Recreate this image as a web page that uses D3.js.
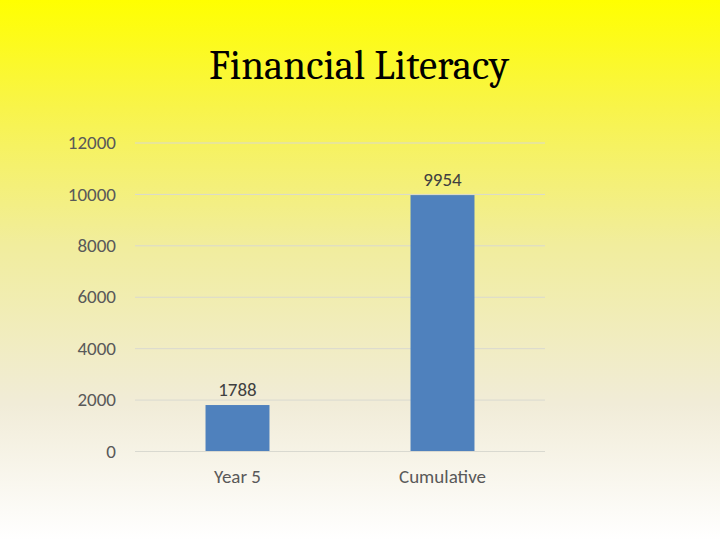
<!DOCTYPE html>
<html lang="en">
<head>
<meta charset="UTF-8">
<title>Financial Literacy</title>
<style>
    body { margin: 0; padding: 0; }
    svg { display: block; }
    .tick text { font-family: Calibri, Carlito, "Open Sans", sans-serif; }
</style>
</head>
<body>
<div id="chart"></div>
<script src="https://d3js.org/d3.v7.min.js"></script>
<script>
    // chart data
    const categories = ["Year 5", "Cumulative"];
    const values = [1788, 9954];
    const yTicks = [0, 2000, 4000, 6000, 8000, 10000, 12000];

    const width = 720, height = 540;
    const plot = { left: 135, right: 545, top: 142.5, bottom: 451 };

    const svg = d3.select("#chart").append("svg")
        .attr("width", width)
        .attr("height", height);

    // yellow to white background
    const grad = svg.append("defs").append("linearGradient")
        .attr("id", "bg").attr("x1", 0).attr("y1", 0).attr("x2", 0).attr("y2", 1);
    [[0, "#ffff00"], [0.2, "#f8f44a"], [0.45, "#f1ed9c"], [0.75, "#f1ecd8"], [1, "#ffffff"]]
        .forEach(s => grad.append("stop").attr("offset", s[0]).attr("stop-color", s[1]));
    svg.append("rect").attr("width", width).attr("height", height).attr("fill", "url(#bg)");

    svg.append("text")
        .attr("x", 359).attr("y", 79)
        .attr("text-anchor", "middle")
        .style("font-family", "Cambria, 'Liberation Serif', 'DejaVu Serif', serif")
        .style("font-size", "41px")
        .attr("fill", "#000")
        .text("Financial Literacy");

    const x = d3.scaleBand()
        .domain(categories)
        .range([plot.left, plot.right])
        .paddingInner(0.688)
        .paddingOuter(0.344);

    const y = d3.scaleLinear()
        .domain([0, 12000])
        .range([plot.bottom, plot.top]);

    // gridlines + y labels
    const yAxis = svg.append("g")
        .attr("transform", `translate(${plot.left},0)`)
        .call(d3.axisLeft(y).tickValues(yTicks).tickFormat(d3.format("d"))
            .tickSize(-(plot.right - plot.left)).tickPadding(19));
    yAxis.select(".domain").remove();
    yAxis.selectAll(".tick line").attr("stroke", "#d9d9d0").attr("stroke-width", 1);
    yAxis.selectAll(".tick text").attr("fill", "#595959").style("font-size", "19px");

    // x labels
    const xAxis = svg.append("g")
        .attr("transform", `translate(0,${plot.bottom})`)
        .call(d3.axisBottom(x).tickSize(0).tickPadding(19));
    xAxis.select(".domain").remove();
    xAxis.selectAll(".tick text").attr("fill", "#595959").style("font-size", "19px");

    // bars
    svg.selectAll(".bar")
        .data(values)
        .enter().append("rect")
        .attr("class", "bar")
        .attr("x", (d, i) => x(categories[i]))
        .attr("width", x.bandwidth())
        .attr("y", d => y(d))
        .attr("height", d => y(0) - y(d))
        .attr("fill", "#4f81bd");

    // data labels
    svg.selectAll(".lbl")
        .data(values)
        .enter().append("text")
        .attr("class", "lbl")
        .attr("x", (d, i) => x(categories[i]) + x.bandwidth() / 2)
        .attr("y", d => y(d) - 9)
        .attr("text-anchor", "middle")
        .style("font-family", "Calibri, Carlito, 'Open Sans', sans-serif")
        .style("font-size", "19px")
        .attr("fill", "#404040")
        .text(d => d);
</script>
</body>
</html>
